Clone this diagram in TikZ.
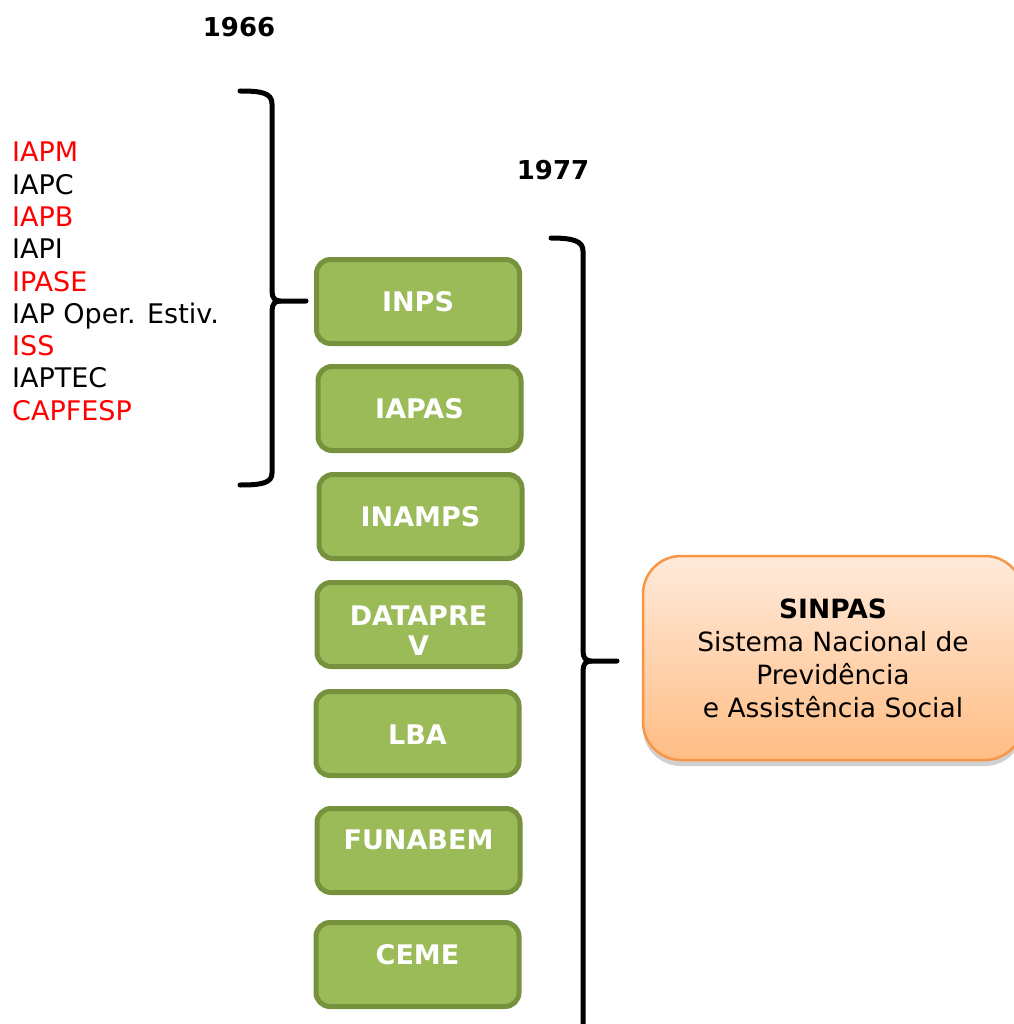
\documentclass[tikz,border=0pt]{standalone}
\usepackage{fontspec}
\setmainfont{DejaVu Sans}
\usetikzlibrary{shadows}
\definecolor{gfill}{HTML}{9BBB59}
\definecolor{gline}{HTML}{76923C}
\definecolor{oline}{HTML}{F79646}
\definecolor{otop}{HTML}{FFEADB}
\definecolor{obot}{HTML}{FFBD84}
\definecolor{redtxt}{HTML}{FF0000}
\tikzset{
  gbox/.style={rounded corners=14pt, draw=gline, line width=5pt, fill=gfill,
    minimum width=203pt, minimum height=84pt, inner sep=0pt},
  gtext/.style={inner sep=0pt, text=white, align=center,
    font=\fontsize{27}{30}\selectfont\bfseries},
  obox/.style={rounded corners=38pt, draw=oline, line width=2.5pt,
    top color=otop, bottom color=obot,
    drop shadow={shadow xshift=0pt, shadow yshift=-6pt, opacity=0.3, fill=black!60},
    minimum width=380pt, minimum height=204pt, inner sep=0pt,
    align=center, font=\fontsize{26.5}{33}\selectfont},
  item/.style={anchor=base west, inner sep=0pt, font=\fontsize{27}{32}\selectfont},
  redit/.style={item, text=redtxt},
  year/.style={inner sep=0pt, font=\fontsize{26}{30}\selectfont\bfseries},
  bracepath/.style={line width=5pt, draw=black, line cap=round}
}
\begin{document}
\begin{tikzpicture}[x=1pt,y=-1pt]
\useasboundingbox (0,0) rectangle (1013,1024);
\fill[white] (0,0) rectangle (1013,1024);

% years
\node[year] (y66) at (239,27) {1966};
\node[year] (y77) at (553,170) {1977};

% left list
\node[redit] (l1) at (12,162) {IAPM};
\node[item]  (l2) at (12,194.25) {IAPC};
\node[redit] (l3) at (12,226.5) {IAPB};
\node[item]  (l4) at (12,258.75) {IAPI};
\node[redit] (l5) at (12,291) {IPASE};
\node[item]  (l6) at (12,323.25) {IAP Oper. Estiv.};
\node[redit] (l7) at (12,355.5) {ISS};
\node[item]  (l8) at (12,387.75) {IAPTEC};
\node[redit] (l9) at (12,420) {CAPFESP};

% green boxes
\node[gbox] (inps)   at (418,301.5) {};
\node[gbox] (iapas)  at (419.5,408.5) {};
\node[gbox] (inamps) at (420.5,516.5) {};
\node[gbox] (datap)  at (418.5,624.5) {};
\node[gbox] (lba)    at (417.5,733.5) {};
\node[gbox] (funab)  at (418.5,850.5) {};
\node[gbox] (ceme)   at (417.5,964.5) {};
\node[gtext] (inps-t)   at (418,302) {INPS};
\node[gtext] (iapas-t)  at (419.5,409) {IAPAS};
\node[gtext] (inamps-t) at (420.5,517) {INAMPS};
\node[gtext] (datap-t)  at (418.5,631) {DATAPRE\\V};
\node[gtext] (lba-t)    at (417.5,735) {LBA};
\node[gtext] (funab-t)  at (418.5,840) {FUNABEM};
\node[gtext] (ceme-t)   at (417.5,955) {CEME};

% orange box
\node[obox] (sinpas) at (833,658) {\textbf{SINPAS}\\Sistema Nacional de\\Previdência\\e Assistência Social};

% left brace
\coordinate (lb1) at (240,91);
\coordinate (lbtip) at (306,301);
\coordinate (lb2) at (240,485);
\draw[bracepath] (lb1) .. controls (262,91) and (272,93) .. (272,104)
  -- (272,291) .. controls (272,298) and (275,301) .. (280,301) -- (lbtip);
\draw[bracepath] (280,301) .. controls (275,301) and (272,304) .. (272,311)
  -- (272,473) .. controls (272,483) and (262,485) .. (lb2);

% right brace
\coordinate (rb1) at (551,238);
\coordinate (rbtip) at (617,661);
\coordinate (rb2) at (551,1060);
\draw[bracepath] (rb1) .. controls (573,238) and (583,241) .. (583,251)
  -- (583,651) .. controls (583,658) and (586,661) .. (591,661) -- (rbtip);
\draw[bracepath] (591,661) .. controls (586,661) and (583,664) .. (583,671)
  -- (583,1046) .. controls (583,1056) and (573,1060) .. (rb2);
\end{tikzpicture}
\end{document}
